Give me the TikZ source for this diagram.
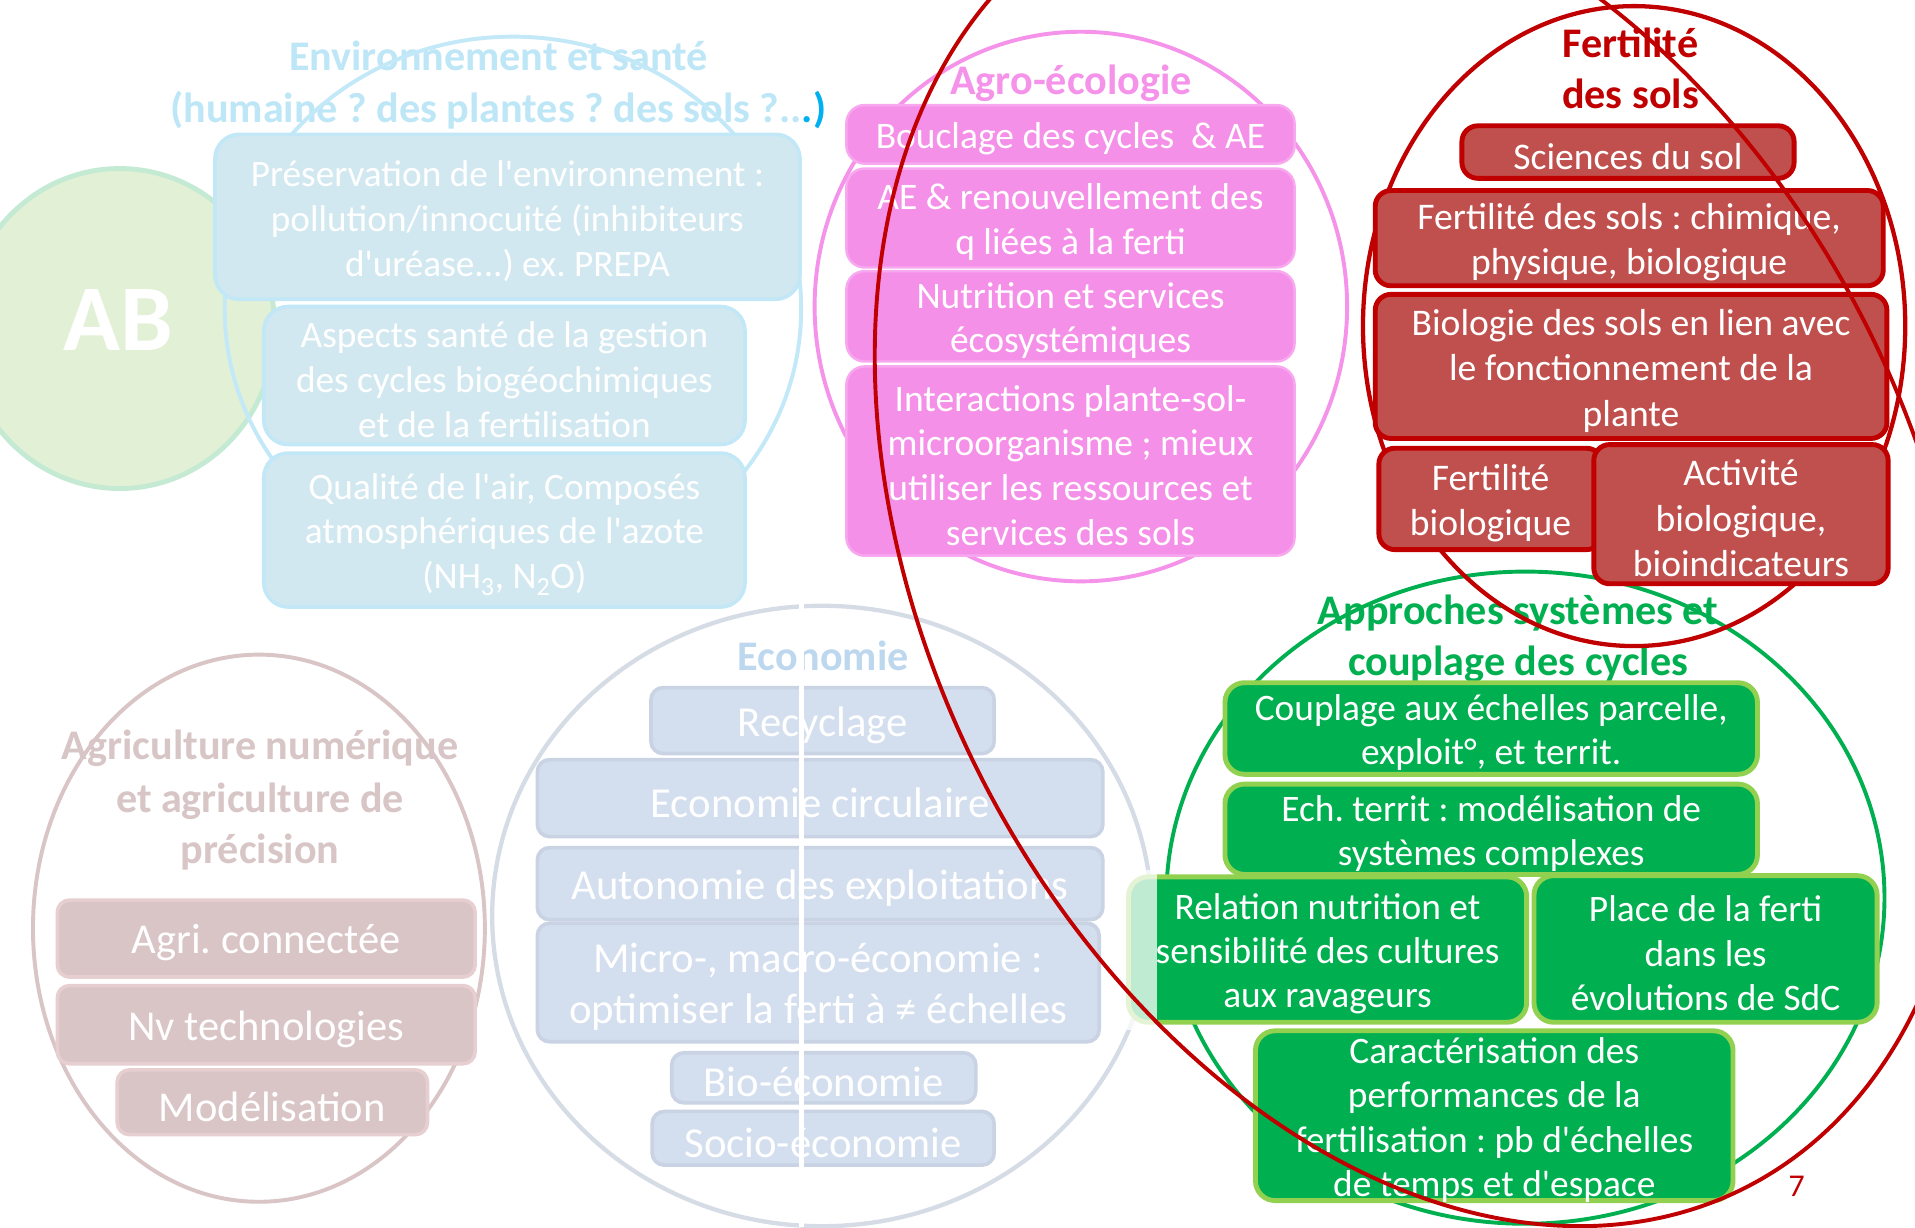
\documentclass[tikz,border=0pt]{standalone}
\usepackage{fontspec}
\setmainfont{Carlito}
\frenchspacing
\newcommand\myap{\textquotesingle}
\newcommand\bt[3]{\parbox[c][#2pt][c]{#1pt}{\centering\vspace*{7pt}#3\par}}
\definecolor{envT}{HTML}{BDE6F6}
\definecolor{envL}{HTML}{C3E9F8}
\definecolor{envF}{HTML}{D2E8F0}
\definecolor{envB}{HTML}{C2E7F6}
\definecolor{envD}{HTML}{00B0F0}
\definecolor{abF}{HTML}{E2F0D6}
\definecolor{abL}{HTML}{C4EAD3}
\definecolor{agF}{HTML}{F590E9}
\definecolor{agB}{HTML}{F8A8EF}
\definecolor{agE}{HTML}{F592EA}
\definecolor{frF}{HTML}{C0504D}
\definecolor{frL}{HTML}{C00000}
\definecolor{grF}{HTML}{00B050}
\definecolor{grL}{HTML}{92D050}
\definecolor{anF}{HTML}{D9C4C6}
\definecolor{anL}{HTML}{E6CED1}
\definecolor{anT}{HTML}{D8C5C6}
\definecolor{ecF}{HTML}{D3DEEE}
\definecolor{ecL}{HTML}{C9D3E3}
\definecolor{ecT}{HTML}{BDD7EE}
\definecolor{ecE}{HTML}{D5DCE6}
\tikzset{
  bx/.style={align=center, inner sep=0pt, outer sep=0pt, text=white},
  envbox/.style={bx, rounded corners=20pt, fill=envF, draw=envB, line width=3pt, font=\fontsize{30.5}{36.8}\selectfont},
  agbox/.style={bx, rounded corners=15pt, fill=agF, draw=agB, line width=2pt, font=\fontsize{30.7}{36.5}\selectfont},
  frbox/.style={bx, rounded corners=13pt, fill=frF, draw=frL, line width=4pt, font=\fontsize{30.8}{37.2}\selectfont},
  grbox/.style={bx, rounded corners=16pt, fill=grF, draw=grL, line width=4pt, font=\fontsize{30.6}{36.3}\selectfont},
  anbox/.style={bx, rounded corners=10pt, fill=anF, draw=anL, line width=3pt, font=\fontsize{34.8}{41}\selectfont},
  ecbox/.style={bx, rounded corners=10pt, fill=ecF, draw=ecL, line width=3pt, font=\fontsize{35}{41.5}\selectfont},
  ttl/.style={inner sep=0pt, anchor=base, font=\bfseries\fontsize{34.5}{41}\selectfont},
  ring/.style={line width=3.2pt}
}
\begin{document}
\begin{tikzpicture}[x=1pt,y=-1pt]
\useasboundingbox (0,0) rectangle (1568,1005);
\fill[white] (0,0) rectangle (1568,1005);
\clip (0,0) rectangle (1568,1005);

% ---------- AB ----------
\draw[abL, fill=abF, line width=4pt] (98,269) ellipse [x radius=127, y radius=131];
\node[font=\bfseries\fontsize{77}{77}\selectfont, text=white, inner sep=0pt] (ab) at (97,262) {AB};

% ---------- Environnement et sante ----------
\node[ttl, text=envT] (envt1) at (408,58) {Environnement et santé};
\node[ttl, text=envT] (envt2) at (408,100) {(humaine ? des plantes ? des sols ?..\textcolor{envD}{.)}};
\draw[envL, ring] (420,253) ellipse [x radius=236, y radius=223];
\node[envbox] (e1) at (415.5,177.5) {\bt{479}{135}{Préservation de l\myap environnement :\\pollution/innocuité (inhibiteurs\\d\myap uréase...) ex. PREPA}};
\node[envbox] (e2) at (413,307.5) {\bt{394}{113}{Aspects santé de la gestion\\des cycles biogéochimiques\\et de la fertilisation}};
\node[envbox] (e3) at (413,434) {\bt{394}{126}{Qualité de l\myap air, Composés\\atmosphériques de l\myap azote\\(NH\textsubscript{3}, N\textsubscript{2}O)}};

% ---------- Agro-ecologie ----------
\node[ttl, text=agE] (agt) at (877,77) {Agro-écologie};
\draw[agE, ring] (885,251) ellipse [x radius=218, y radius=225];
\node[agbox] (a1) at (876.5,110) {\bt{367}{48}{Bouclage des cycles~ \& AE}};
\node[agbox] (a2) at (876.5,178.5) {\bt{367}{81}{AE \& renouvellement des\\q liées à la ferti}};
\node[agbox] (a3) at (876.5,259) {\bt{367}{74}{Nutrition et services\\écosystémiques}};
\node[agbox] (a4) at (876.5,377.5) {\bt{367}{155}{Interactions plante-sol-\\microorganisme ; mieux\\utiliser les ressources et\\services des sols}};

% ---------- Agriculture numerique ----------
\node[ttl, text=anT] (ant1) at (213,622) {Agriculture numérique};
\node[ttl, text=anT] (ant2) at (213,665) {et agriculture de};
\node[ttl, text=anT] (ant3) at (213,707) {précision};
\draw[anF, ring] (212,760) ellipse [x radius=185, y radius=224];
\node[anbox] (n1) at (218,768.5) {\bt{342}{63}{Agri. connectée}};
\node[anbox] (n2) at (218,839) {\bt{342}{64}{Nv technologies}};
\node[anbox] (n3) at (223,902.5) {\bt{254}{53}{Modélisation}};

% ---------- Economie ----------
\node[ttl, text=ecT] (ect) at (674,549) {Economie};
\draw[ecE, line width=3.5pt] (673,750) ellipse [x radius=270, y radius=254];
\node[ecbox] (c1) at (673.5,590) {\bt{281}{54}{Recyclage}};
\node[ecbox] (c2) at (671.5,653.5) {\bt{463}{63}{Economie circulaire}};
\node[ecbox] (c3) at (671.5,723.5) {\bt{463}{59}{Autonomie des exploitations}};
\node[ecbox] (c4) at (670,804.5) {\bt{460}{97}{Micro-, macro-économie :\\optimiser la ferti à ≠ échelles}};
\node[ecbox] (c5) at (674.5,882.5) {\bt{249}{41}{Bio-économie}};
\node[ecbox] (c6) at (674,932) {\bt{280}{44}{Socio-économie}};
\coordinate (wtop) at (656,490);
\coordinate (wbot) at (656,1005);
\draw[white, line width=4pt] (wtop) -- (wbot);

% ---------- Approches systemes ----------
\node[ttl, text=grF] (grt1) at (1243,511) {Approches systèmes et};
\node[ttl, text=grF] (grt2) at (1243,553) {couplage des cycles};
\draw[grF, ring] (1249,735) ellipse [x radius=294, y radius=267];
\node[grbox] (g1) at (1221,596.5) {\bt{436}{75}{Couplage aux échelles parcelle,\\exploit°, et territ.}};
\node[grbox] (g2) at (1221,679) {\bt{436}{74}{Ech. territ : modélisation de\\systèmes complexes}};
\node[grbox] (g3) at (1087,777.5) {\bt{326}{119}{Relation nutrition et\\sensibilité des cultures\\aux ravageurs}};
\fill[white, opacity=0.75] (919,712) rectangle (947,843);
\node[grbox] (g4) at (1396.5,777) {\bt{281}{120}{Place de la ferti\\dans les\\évolutions de SdC}};
\node[grbox] (g5) at (1223.5,913.5) {\bt{391}{139}{Caractérisation des\\performances de la\\fertilisation : pb d\myap échelles\\de temps et d\myap espace}};
\node[inner sep=0pt, anchor=base, text=frL, font=\fontsize{26}{30}\selectfont] (pg) at (1471,980) {7};

% ---------- Fertilite des sols ----------
\node[ttl, text=frL] (frt1) at (1335,47) {Fertilité};
\node[ttl, text=frL] (frt2) at (1335,89) {des sols};
\draw[frL, line width=3.5pt] (1338,267) ellipse [x radius=222, y radius=262];
\node[frbox] (r1) at (1333,124.5) {\bt{272}{43}{Sciences du sol}};
\node[frbox] (r2) at (1334,195) {\bt{416}{78}{Fertilité des sols : chimique,\\physique, biologique}};
\node[frbox] (r3) at (1335.5,300) {\bt{419}{118}{Biologie des sols en lien avec\\le fonctionnement de la\\plante}};
\node[frbox] (r4) at (1220.5,408.5) {\bt{183}{83}{Fertilité\\biologique}};
\node[frbox] (r5) at (1425.5,421) {\bt{241}{114}{Activité\\biologique,\\bioindicateurs}};

% ---------- big red ellipse ----------
\draw[frL, line width=3.2pt] plot[domain=0:360, samples=180, smooth]
  ({1165 + 430*cos(\x) + 128.5*sin(\x)}, {450 + 554*sin(\x)});
\end{tikzpicture}
\end{document}
